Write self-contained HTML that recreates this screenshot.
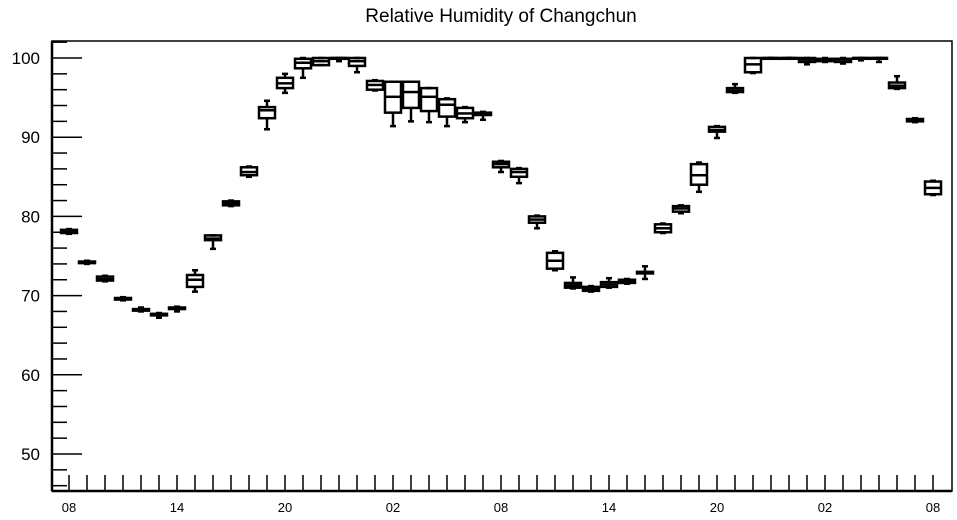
<!DOCTYPE html>
<html><head><meta charset="utf-8"><style>
html,body{margin:0;padding:0;background:#fff;}
svg{display:block;font-family:"Liberation Sans",Arial,sans-serif;}
</style></head><body>
<svg id="chart" width="957" height="520" viewBox="0 0 957 520" xmlns="http://www.w3.org/2000/svg">
<text x="501" y="22" text-anchor="middle" font-size="19">Relative Humidity of Changchun</text>
<g id="axes"></g>
<g id="boxes"></g>
</svg>
<script>
const hourLabels = ["08","14","20","02","08","14","20","02","08"];
const yTicks = [50,60,70,80,90,100];
const q1s  = [77.9,74.1,71.9,69.5,68.1,67.5,68.3,71.1,77.0,81.4,85.2,92.4,96.2,98.7,99.1,99.9,99.0,96.0,93.1,93.7,93.3,92.6,92.4,92.8,86.2,85.0,79.2,73.4,71.0,70.6,71.1,71.6,72.8,78.0,80.6,84.0,90.7,95.7,98.2,99.9,99.9,99.5,99.6,99.5,99.9,99.9,96.2,92.0,82.8];
const meds = [78.1,74.2,72.1,69.6,68.2,67.6,68.4,72.0,77.2,81.6,85.6,93.4,96.8,99.4,99.6,100,99.6,96.6,95.1,95.7,95.1,94.1,93.0,93.0,86.6,85.6,79.6,74.4,71.3,70.8,71.4,71.8,72.9,78.5,81.0,85.2,90.9,95.9,99.2,100,100,99.8,99.8,99.8,100,100,96.5,92.1,83.6];
const q3s  = [78.3,74.3,72.4,69.7,68.3,67.7,68.5,72.6,77.6,81.9,86.2,93.8,97.5,99.9,100,100,100,97.1,97.0,97.0,96.2,94.8,93.7,93.1,86.9,86.0,80.0,75.4,71.6,71.1,71.7,72.0,73.0,79.0,81.3,86.6,91.3,96.2,100,100,100,100,99.9,99.9,100,100,96.9,92.3,84.4];
const mins = [77.8,74.0,71.8,69.4,68.0,67.2,68.0,70.5,75.9,81.3,85.0,91.0,95.6,97.5,99.1,99.6,98.2,95.9,91.4,92.0,91.9,91.4,91.9,92.2,85.6,84.2,78.5,73.2,70.9,70.5,71.0,71.5,72.1,77.9,80.4,83.1,89.9,95.6,98.1,100,100,99.2,99.5,99.3,99.7,99.5,96.1,91.9,82.7];
const maxs = [78.4,74.4,72.5,69.8,68.5,67.8,68.6,73.2,77.6,82.0,86.3,94.6,98.0,100,100,100,100,97.2,97.0,97.0,96.2,94.9,93.8,93.2,87.0,86.1,80.1,75.6,72.3,71.2,72.2,72.1,73.7,79.1,81.4,86.8,91.4,96.7,100,100,100,100,100,100,100,100,97.7,92.4,84.5];

const NS="http://www.w3.org/2000/svg";
const L=52,R=952,T=41,B=491;
const yS=v=>58+(100-v)*7.92;
const xS=i=>69+18*i;
function mk(tag,attrs,parent){const e=document.createElementNS(NS,tag);for(const k in attrs)e.setAttribute(k,attrs[k]);parent.appendChild(e);return e;}
const ax=document.getElementById('axes');
const frame=mk('rect',{x:L,y:T,width:R-L,height:B-T,fill:'none',stroke:'#000','stroke-width':1.5},ax);


mk('line',{x1:L,y1:T,x2:L,y2:B,stroke:'#000','stroke-width':2.5},ax);
mk('line',{x1:L,y1:B,x2:R,y2:B,stroke:'#000','stroke-width':2.5},ax);
for(let v=46;v<=102;v+=2){
  const major=v%10===0;
  const ln=mk('line',{x1:L,y1:yS(v),x2:L+(major?30:15),y2:yS(v),stroke:'#000','stroke-width':1.5},ax);
  
  
}
yTicks.forEach(v=>{
  const t=mk('text',{x:40,y:yS(v)+6,'text-anchor':'end','font-size':17},ax);
  t.textContent=v;
  
  
});
for(let i=0;i<meds.length;i++){
  const tk=mk('line',{x1:xS(i),y1:B,x2:xS(i),y2:B-16,stroke:'#000','stroke-width':1.5},ax);
  
  
}
hourLabels.forEach((s,j)=>{
  const t=mk('text',{x:xS(j*6),y:512,'text-anchor':'middle','font-size':13},ax);
  t.textContent=s;
  
  
});
const bx=document.getElementById('boxes');
const W=16;
for(let i=0;i<meds.length;i++){
  const g=mk('g',{stroke:'#000','stroke-width':2.5,fill:'none'},bx);
  
  
  const x=xS(i);
  mk('line',{x1:x,y1:yS(maxs[i]),x2:x,y2:yS(q3s[i])},g);
  mk('line',{x1:x,y1:yS(q1s[i]),x2:x,y2:yS(mins[i])},g);
  mk('line',{x1:x-3,y1:yS(maxs[i]),x2:x+3,y2:yS(maxs[i])},g);
  mk('line',{x1:x-3,y1:yS(mins[i]),x2:x+3,y2:yS(mins[i])},g);
  mk('rect',{x:x-W/2,y:yS(q3s[i]),width:W,height:Math.max(0.5,yS(q1s[i])-yS(q3s[i]))},g);
  mk('line',{x1:x-W/2,y1:yS(meds[i]),x2:x+W/2,y2:yS(meds[i])},g);
}
</script>
</body></html>
